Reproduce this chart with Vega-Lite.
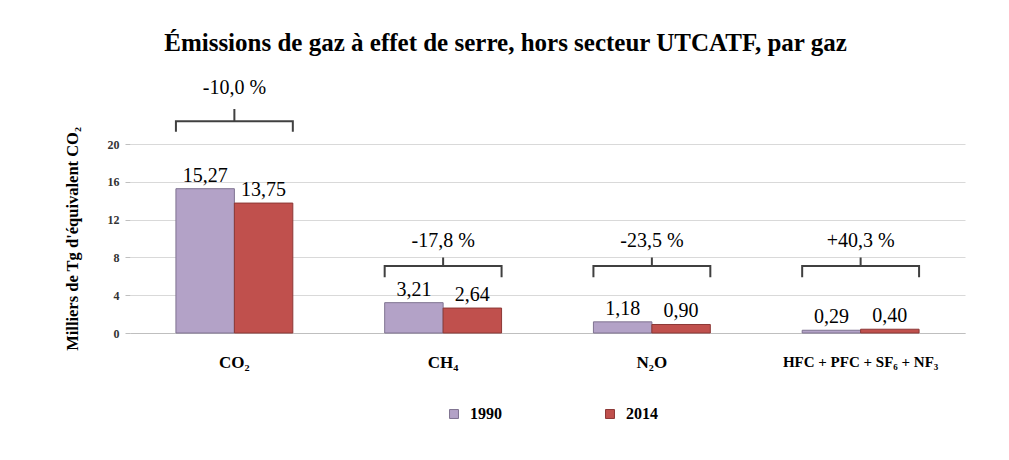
{
  "$schema": "https://vega.github.io/schema/vega-lite/v6.json",
  "width": 835,
  "height": 189,
  "autosize": {"type": "none"},
  "padding": {"left": 130, "top": 144, "right": 44, "bottom": 127},
  "background": "white",
  "config": {
    "font": "Liberation Serif",
    "view": {"stroke": null},
    "locale": {"number": {"decimal": ",", "thousands": " ", "grouping": [3], "currency": ["", " €"], "minus": "-"}},
    "axisY": {
      "labelOverlap": false,
      "titleFont": "Liberation Serif",
      "titleFontSize": 16.5,
      "titleFontWeight": "bold",
      "titleColor": "#000000",
      "titlePadding": 27,
      "labelFont": "Liberation Serif",
      "labelFontWeight": "bold",
      "labelFontSize": 12,
      "labelColor": "#333333",
      "labelPadding": 6,
      "domain": false,
      "tickColor": "#bfbfbf",
      "tickSize": 5,
      "gridColor": "#d9d9d9",
      "gridWidth": 1
    }
  },
  "title": {
    "text": "Émissions de gaz à effet de serre, hors secteur UTCATF, par gaz",
    "font": "Liberation Serif",
    "fontSize": 25,
    "fontWeight": "bold",
    "color": "#000000",
    "anchor": "middle",
    "dx": -42,
    "offset": 22
  },
  "datasets": {
    "bars": [
      {"gas": "CO₂", "year": "1990", "value": 15.27},
      {"gas": "CO₂", "year": "2014", "value": 13.75},
      {"gas": "CH₄", "year": "1990", "value": 3.21},
      {"gas": "CH₄", "year": "2014", "value": 2.64},
      {"gas": "N₂O", "year": "1990", "value": 1.18},
      {"gas": "N₂O", "year": "2014", "value": 0.90},
      {"gas": "HFC + PFC + SF₆ + NF₃", "year": "1990", "value": 0.29},
      {"gas": "HFC + PFC + SF₆ + NF₃", "year": "2014", "value": 0.40}
    ],
    "brackets": [
      {"gas": "CO₂", "pt": "L", "y": 21.3, "ord": 1},
      {"gas": "CO₂", "pt": "L", "y": 22.4, "ord": 2},
      {"gas": "CO₂", "pt": "C", "y": 22.4, "ord": 3},
      {"gas": "CO₂", "pt": "C", "y": 23.7, "ord": 4},
      {"gas": "CO₂", "pt": "C", "y": 22.4, "ord": 5},
      {"gas": "CO₂", "pt": "R", "y": 22.4, "ord": 6},
      {"gas": "CO₂", "pt": "R", "y": 21.3, "ord": 7},
      {"gas": "CH₄", "pt": "L", "y": 5.9, "ord": 1},
      {"gas": "CH₄", "pt": "L", "y": 7.1, "ord": 2},
      {"gas": "CH₄", "pt": "C", "y": 7.1, "ord": 3},
      {"gas": "CH₄", "pt": "C", "y": 8.0, "ord": 4},
      {"gas": "CH₄", "pt": "C", "y": 7.1, "ord": 5},
      {"gas": "CH₄", "pt": "R", "y": 7.1, "ord": 6},
      {"gas": "CH₄", "pt": "R", "y": 5.9, "ord": 7},
      {"gas": "N₂O", "pt": "L", "y": 5.9, "ord": 1},
      {"gas": "N₂O", "pt": "L", "y": 7.1, "ord": 2},
      {"gas": "N₂O", "pt": "C", "y": 7.1, "ord": 3},
      {"gas": "N₂O", "pt": "C", "y": 8.0, "ord": 4},
      {"gas": "N₂O", "pt": "C", "y": 7.1, "ord": 5},
      {"gas": "N₂O", "pt": "R", "y": 7.1, "ord": 6},
      {"gas": "N₂O", "pt": "R", "y": 5.9, "ord": 7},
      {"gas": "HFC + PFC + SF₆ + NF₃", "pt": "L", "y": 5.9, "ord": 1},
      {"gas": "HFC + PFC + SF₆ + NF₃", "pt": "L", "y": 7.1, "ord": 2},
      {"gas": "HFC + PFC + SF₆ + NF₃", "pt": "C", "y": 7.1, "ord": 3},
      {"gas": "HFC + PFC + SF₆ + NF₃", "pt": "C", "y": 8.0, "ord": 4},
      {"gas": "HFC + PFC + SF₆ + NF₃", "pt": "C", "y": 7.1, "ord": 5},
      {"gas": "HFC + PFC + SF₆ + NF₃", "pt": "R", "y": 7.1, "ord": 6},
      {"gas": "HFC + PFC + SF₆ + NF₃", "pt": "R", "y": 5.9, "ord": 7}
    ],
    "changes": [
      {"gas": "CO₂", "label": "-10,0 %", "y": 25.9},
      {"gas": "CH₄", "label": "-17,8 %", "y": 9.75},
      {"gas": "N₂O", "label": "-23,5 %", "y": 9.75},
      {"gas": "HFC + PFC + SF₆ + NF₃", "label": "+40,3 %", "y": 9.75}
    ]
  },
  "encoding": {
    "x": {
      "field": "gas",
      "type": "nominal",
      "sort": ["CO₂", "CH₄", "N₂O", "HFC + PFC + SF₆ + NF₃"],
      "scale": {"paddingInner": 0.44, "paddingOuter": 0.22},
      "axis": {
        "title": null,
        "labelAngle": 0,
        "labelFont": "Liberation Serif",
        "labelFontWeight": "bold",
        "labelFontSize": {"condition": {"test": "length(datum.value) > 5", "value": 15}, "value": 17},
        "labelColor": "#000000",
        "labelPadding": 21,
        "ticks": false,
        "domainColor": "#bfbfbf",
        "domainWidth": 1,
        "grid": false
      }
    }
  },
  "layer": [
    {
      "data": {"name": "bars"},
      "mark": {"type": "bar", "strokeWidth": 1},
      "encoding": {
        "xOffset": {"field": "year", "type": "nominal", "scale": {"paddingInner": 0, "paddingOuter": 0}},
        "y": {
          "field": "value",
          "type": "quantitative",
          "scale": {"domain": [0, 20], "nice": false},
          "title": "Milliers de Tg d'équivalent CO₂",
          "axis": {"values": [0, 4, 8, 12, 16, 20]}
        },
        "fill": {
          "field": "year",
          "type": "nominal",
          "scale": {"domain": ["1990", "2014"], "range": ["#b3a2c7", "#c0504d"]},
          "legend": {
            "title": null,
            "orient": "none",
            "legendX": 316,
            "legendY": 262,
            "direction": "horizontal",
            "symbolType": "square",
            "symbolSize": 80,
            "symbolStrokeWidth": 1,
            "labelFont": "Liberation Serif",
            "labelFontWeight": "bold",
            "labelFontSize": 16,
            "labelColor": "#000000",
            "columnPadding": 100,
            "labelOffset": 8
          }
        },
        "stroke": {
          "field": "year",
          "type": "nominal",
          "scale": {"domain": ["1990", "2014"], "range": ["#7f7391", "#8c3836"]},
          "legend": null
        }
      }
    },
    {
      "data": {"name": "bars"},
      "mark": {"type": "text", "baseline": "alphabetic", "dy": -7, "fontSize": 20, "font": "Liberation Serif", "color": "#000000"},
      "encoding": {
        "xOffset": {"field": "year", "type": "nominal"},
        "y": {"field": "value", "type": "quantitative", "title": "Milliers de Tg d'équivalent CO₂", "axis": {"values": [0, 4, 8, 12, 16, 20]}},
        "text": {"field": "value", "type": "quantitative", "format": ".2f"}
      }
    },
    {
      "data": {"name": "brackets"},
      "mark": {"type": "line", "color": "#404040", "strokeWidth": 2, "clip": false},
      "encoding": {
        "xOffset": {"field": "pt", "type": "nominal", "scale": {"type": "point", "domain": ["L", "C", "R"], "padding": 0}},
        "y": {"field": "y", "type": "quantitative", "title": "Milliers de Tg d'équivalent CO₂", "axis": {"values": [0, 4, 8, 12, 16, 20]}},
        "detail": {"field": "gas"},
        "order": {"field": "ord", "type": "quantitative"}
      }
    },
    {
      "data": {"name": "changes"},
      "mark": {"type": "text", "baseline": "middle", "fontSize": 20, "font": "Liberation Serif", "color": "#000000"},
      "encoding": {
        "y": {"field": "y", "type": "quantitative", "title": "Milliers de Tg d'équivalent CO₂", "axis": {"values": [0, 4, 8, 12, 16, 20]}},
        "text": {"field": "label"}
      }
    }
  ],
  "resolve": {"scale": {"xOffset": "independent"}}
}
